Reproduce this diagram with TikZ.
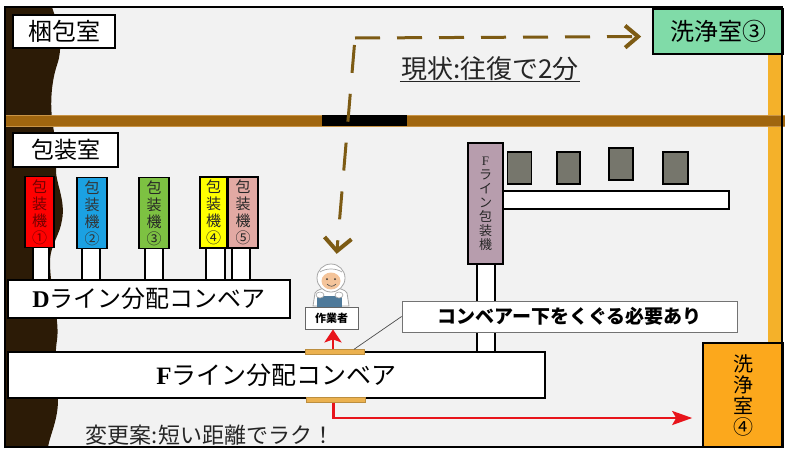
\documentclass[tikz,border=0pt]{standalone}
\usepackage{fontspec}
\setmainfont{Liberation Serif}
\newfontfamily\jp{Noto Sans CJK JP}
\usetikzlibrary{arrows.meta}

\newcommand\tsz[2]{\fontsize{#1pt}{#2pt}\selectfont}

\definecolor{floor}{HTML}{F2F2F2}
\definecolor{soil}{HTML}{2C1B06}
\definecolor{wallc}{HTML}{A0660F}
\definecolor{wallrim}{HTML}{C99446}
\definecolor{bandc}{HTML}{F4B12A}
\definecolor{washg}{HTML}{80DBA8}
\definecolor{washo}{HTML}{FCA81C}
\definecolor{mauve}{HTML}{B79DAD}
\definecolor{slate}{HTML}{76766C}
\definecolor{mred}{HTML}{FF0000}
\definecolor{mblue}{HTML}{1BA1E2}
\definecolor{mgreen}{HTML}{7DC142}
\definecolor{myellow}{HTML}{FFFF00}
\definecolor{mpink}{HTML}{E2A9A3}
\definecolor{route}{HTML}{7D5B14}
\definecolor{plate}{HTML}{EBB14F}
\definecolor{arrowred}{HTML}{E8141B}
\definecolor{skin}{HTML}{F4C49A}
\definecolor{tray}{HTML}{4F7A9A}

\tikzset{
  box/.style={draw=black, line width=1.6pt, fill=white, inner sep=0pt, font=\jp},
  machine/.style={draw=black, line width=1.6pt, inner sep=0pt, minimum width=29pt,
    minimum height=71pt, align=center, font=\jp\tsz{15}{17}},
  leg/.style={draw=black, line width=1.3pt, fill=white, inner sep=0pt},
  square/.style={draw=black, line width=1.6pt, fill=slate, inner sep=0pt,
    minimum width=24pt, minimum height=32pt},
  plates/.style={fill=plate, draw=plate!80!black, line width=0.4pt, inner sep=0pt,
    minimum width=59pt, minimum height=5pt},
  routeline/.style={draw=route, line width=3pt},
  routetip/.style={-{Straight Barb[length=13pt,width=#1,line width=4pt]}},
  redline/.style={draw=arrowred, line width=2.6pt},
}

\begin{document}
\begin{tikzpicture}[x=1pt,y=-1pt]
\useasboundingbox (0,0) rectangle (785,450);
\fill[white] (0,0) rectangle (785,450);
\fill[floor] (5,7) rectangle (782,447);

% dark ground on the left, wavy edge
\fill[soil] (5,7) -- (52,7) .. controls (58,25) and (64,45) .. (57,65)
  .. controls (52,80) and (50,100) .. (52,118)
  .. controls (54,135) and (58,150) .. (56,168)
  .. controls (55,182) and (66,200) .. (62,220)
  .. controls (60,235) and (50,245) .. (50,262)
  .. controls (50,290) and (60,320) .. (57,340)
  .. controls (54,360) and (56,380) .. (58,400)
  .. controls (58,420) and (50,435) .. (48,447) -- (5,447) -- cycle;

% orange strip on the right edge
\fill[bandc] (768,54) rectangle (783,343);

% partition wall with its black doorway
\fill[wallc] (5,115) rectangle (785,126);
\draw[wallrim, line width=0.6pt] (5,115) -- (785,115) (5,126) -- (785,126);
\fill[black] (322,115) rectangle (407,126);

% room labels
\node[box, minimum width=102pt, minimum height=33pt, font=\jp\tsz{24}{26}] (kon) at (64,31.5) {梱包室};
\node[box, minimum width=105pt, minimum height=34pt, font=\jp\tsz{23}{25}] (hoso) at (65.5,150) {包装室};
\node[box, fill=washg, minimum width=130pt, minimum height=45pt, font=\jp\tsz{24}{26}] (wash3) at (718,31.5) {洗浄室③};

% current route label
\node[inner sep=1pt, font=\jp\tsz{26}{28}, text=black!85] (genjo) at (490,69) {現状:往復で2分};
\draw[black!85, line width=1.2pt] ([yshift=1pt]genjo.south west) -- ([yshift=1pt]genjo.south east);

% legs of the D-line packing machines
\node[leg, minimum width=16pt, minimum height=34pt] (l1) at (41,264) {};
\node[leg, minimum width=18pt, minimum height=34pt] (l2) at (91,264) {};
\node[leg, minimum width=18pt, minimum height=34pt] (l3) at (154,264) {};
\node[leg, minimum width=19pt, minimum height=34pt] (l4) at (215.5,264) {};
\node[leg, minimum width=18pt, minimum height=34pt] (l5) at (241,264) {};

% D-line packing machines
\node[machine, fill=mred, text=red!45!black] (m1) at (39.5,212) {包\\装\\機\\①};
\node[machine, fill=mblue, text=black!80, minimum width=30pt] (m2) at (92,213) {包\\装\\機\\②};
\node[machine, fill=mgreen, text=black!85, minimum width=30pt] (m3) at (154,213) {包\\装\\機\\③};
\node[machine, fill=myellow, text=black!85, minimum width=27pt] (m4) at (213.5,212.5) {包\\装\\機\\④};
\node[machine, fill=mpink, text=black!85, minimum width=30pt] (m5) at (243,212.5) {包\\装\\機\\⑤};

% D-line distribution conveyor
\node[box, minimum width=282pt, minimum height=38pt, font=\tsz{24}{26}] (dline) at (149,299)
  {\textbf{D}\jp ライン分配コンベア};

% F-line packing machine, its leg and output conveyor
\node[leg, minimum width=18pt, minimum height=91pt] (fleg) at (486,307.5) {};
\node[box, minimum width=226pt, minimum height=18pt] (fconv) at (616,200) {};
\node[box, fill=mauve, minimum width=35pt, minimum height=121pt, align=center,
  font=\tsz{13}{14}, text=black!85] (fmach) at (485.5,203.5) {F\\\jp ラ\\\jp イ\\\jp ン\\\jp 包\\\jp 装\\\jp 機};
\node[square] (g1) at (519.5,168) {};
\node[square, minimum width=23pt] (g2) at (568.5,168) {};
\node[square] (g3) at (621,164) {};
\node[square, minimum width=25pt] (g4) at (675.5,168) {};

% F-line distribution conveyor with the crossing plates
\node[box, minimum width=537pt, minimum height=46pt, font=\tsz{25}{27}] (fline) at (276.5,375)
  {\textbf{F}\jp ライン分配コンベア};
\node[plates] (ptop) at (335,352) {};
\node[plates] (pbot) at (335.5,400) {};

% note about passing under the conveyor
\node[draw=black!55, line width=0.8pt, fill=white, inner sep=0pt, minimum width=335pt,
  minimum height=31pt, font=\jp\bfseries\tsz{19}{21}] (note) at (569.5,316.5) {コンベアー下をくぐる必要あり};
\draw[black!70, line width=0.7pt] ([xshift=19pt]ptop.north) -- (note.west);

% worker in a clean-room suit
\node[inner sep=0pt, minimum width=40pt, minimum height=44pt] (worker) at (331,284) {};
\filldraw[fill=white, draw=black!35, line width=0.8pt] (313,306) -- (315,293)
  .. controls (318,286) and (344,286) .. (347,293) -- (349,306) -- cycle;
\filldraw[fill=white, draw=black!35, line width=0.8pt] (331,278) ellipse (14pt and 14pt);
\fill[skin] (331,281) ellipse (9.5pt and 8.5pt);
\draw[black!35, line width=0.7pt] (320,272) .. controls (326,268) and (336,268) .. (342,272);
\fill[black!80] (327,279) circle (1pt) (335,279) circle (1pt);
\draw[black!70, line width=0.6pt] (327,284) .. controls (330,287) and (333,287) .. (336,284);
\fill[tray] (317,296) rectangle (342,307);
\filldraw[fill=white, draw=black!35, line width=0.6pt] (320,295) ellipse (4pt and 3pt) (339,295) ellipse (4pt and 3pt);

\node[draw=black!60, line width=0.8pt, fill=white, inner sep=0pt, minimum width=53pt,
  minimum height=22pt, font=\jp\bfseries\tsz{11}{12}] (wlabel) at (331.5,318) {作業者};

% red arrows of the proposed route
\draw[redline, -{Stealth[length=13pt,width=17pt,inset=3pt]}] ([xshift=-2pt]ptop.north) -- ([xshift=1.5pt]wlabel.south);

% cleaning room 4
\node[box, fill=washo, minimum width=80pt, minimum height=104pt, align=center,
  font=\jp\tsz{20}{21}] (wash4) at (743,395) {洗\\浄\\室\\④};

\draw[redline, shorten >=10pt, -{Stealth[length=20pt,width=14pt,inset=4pt]}]
  ([xshift=-2pt]pbot.south) |- ([yshift=-23pt]wash4.west);

% current route: worker to cleaning room 3 and back, turning at one corner
\coordinate (turn) at (355,38);
\draw[routeline, dash pattern=on 28pt off 21pt, shorten <=7pt, shorten >=8pt, routetip=27pt]
  (turn) -- ([xshift=5pt]worker.north);
\draw[routeline, dash pattern=on 25pt off 17pt, shorten >=11pt, routetip=22pt]
  (turn) -- ([yshift=-5pt]wash3.west);

% proposal label
\node[inner sep=0pt, font=\jp\tsz{22}{24}, text=black!85] (henko) at (210,435) {変更案:短い距離でラク！};

% outer frame
\draw[black, line width=2pt] (5,7) rectangle (782,447);
\end{tikzpicture}
\end{document}
